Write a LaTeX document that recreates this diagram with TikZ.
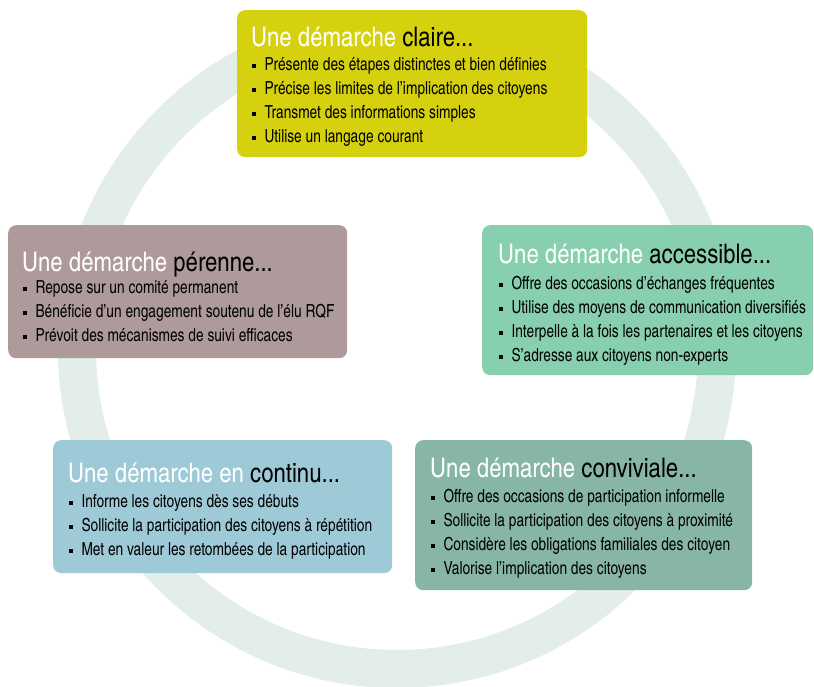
\documentclass[tikz,border=0pt]{standalone}
\usepackage{fontspec}
\setmainfont{texgyreheroscn}[Extension=.otf, UprightFont=*-regular, BoldFont=*-bold]
\newfontfamily\etroite{texgyreheroscn}[Extension=.otf, UprightFont=*-regular, FakeStretch=0.93]
\usepackage{xcolor}
\usetikzlibrary{positioning}

\definecolor{anneau}{HTML}{E3EDEA}
\definecolor{jaune}{HTML}{D6D10E}
\definecolor{mauve}{HTML}{AE9A9B}
\definecolor{menthe}{HTML}{88CFAF}
\definecolor{bleu}{HTML}{9ECAD7}
\definecolor{sauge}{HTML}{87B6A4}

\newcommand{\puce}{\rule[2.7pt]{3.8pt}{3.8pt}\hspace{8.5pt}}

\tikzset{
  boite/.style={rounded corners=8pt, inner sep=0pt, anchor=north west},
  titre/.style={anchor=base west, inner sep=0pt, text=white, font=\fontsize{27}{27}\selectfont},
  ligne/.style={anchor=base west, inner sep=0pt, text=black, font=\etroite\fontsize{18}{20}\selectfont},
}

\begin{document}
\begin{tikzpicture}[x=1pt, y=-1pt]

	\useasboundingbox (0,0) rectangle (814,687);

	%Ring
	\draw[anneau, line width=38pt] (397,349) circle (320pt);

	%Boxes
	\node[boite, fill=jaune, minimum width=350pt, minimum height=147pt] (claire) at (237,10) {};
	\node[boite, fill=mauve, minimum width=339pt, minimum height=133pt] (perenne) at (8,225) {};
	\node[boite, fill=menthe, minimum width=331pt, minimum height=150pt] (accessible) at (482,225) {};
	\node[boite, fill=bleu, minimum width=339pt, minimum height=133pt] (continu) at (53,440) {};
	\node[boite, fill=sauge, minimum width=337pt, minimum height=150pt] (conviviale) at (415,440) {};

	%Titles
	\node[titre] (claireT) at (251,47) {Une démarche \textcolor{black}{claire...}};
	\node[titre] (perenneT) at (22,271) {Une démarche \textcolor{black}{pérenne...}};
	\node[titre] (accessibleT) at (498,264) {Une démarche \textcolor{black}{accessible...}};
	\node[titre] (continuT) at (68,482) {Une démarche en \textcolor{black}{continu...}};
	\node[titre] (convivialeT) at (430,477) {Une démarche \textcolor{black}{conviviale...}};

	%Bullets
	\foreach \t [count=\i from 0] in {Présente des étapes distinctes et bien définies,
	    Précise les limites de l’implication des citoyens,
	    Transmet des informations simples,
	    Utilise un langage courant}
	  \node[ligne] (claire\i) at (252,70.5+24*\i) {\puce\t};

	\foreach \t [count=\i from 0] in {Repose sur un comité permanent,
	    Bénéficie d’un engagement soutenu de l’élu RQF,
	    Prévoit des mécanismes de suivi efficaces}
	  \node[ligne] (perenne\i) at (23,293.5+24*\i) {\puce\t};

	\foreach \t [count=\i from 0] in {Offre des occasions d’échanges fréquentes,
	    Utilise des moyens de communication diversifiés,
	    Interpelle à la fois les partenaires et les citoyens,
	    S’adresse aux citoyens non-experts}
	  \node[ligne] (accessible\i) at (499,289.5+24*\i) {\puce\t};

	\foreach \t [count=\i from 0] in {Informe les citoyens dès ses débuts,
	    Sollicite la participation des citoyens à répétition,
	    Met en valeur les retombées de la participation}
	  \node[ligne] (continu\i) at (69,507.5+24*\i) {\puce\t};

	\foreach \t [count=\i from 0] in {Offre des occasions de participation informelle,
	    Sollicite la participation des citoyens à proximité,
	    Considère les obligations familiales des citoyen,
	    Valorise l’implication des citoyens}
	  \node[ligne] (conviviale\i) at (431,502.5+24*\i) {\puce\t};

\end{tikzpicture}
\end{document}
